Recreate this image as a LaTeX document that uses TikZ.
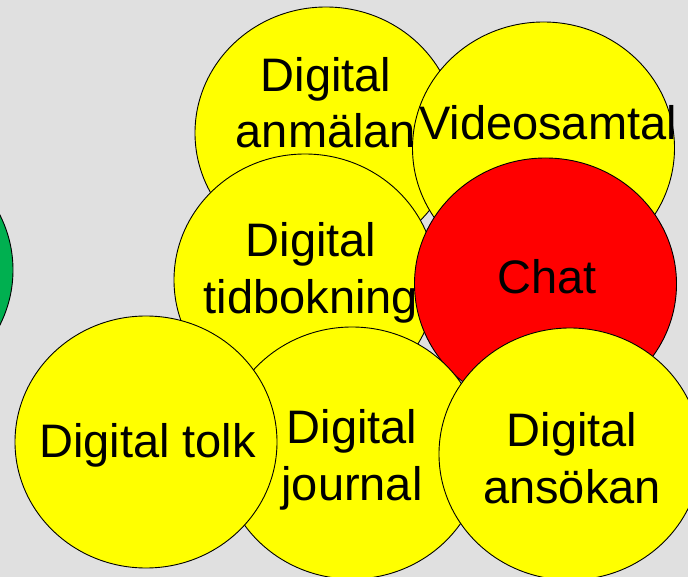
\documentclass[tikz,border=0pt]{standalone}
\usepackage{fontspec}
\setmainfont{Liberation Sans}
\usetikzlibrary{shapes.geometric}
\definecolor{bg}{RGB}{224,224,224}
\definecolor{ballyellow}{RGB}{255,255,0}
\definecolor{ballred}{RGB}{255,0,0}
\definecolor{ballgreen}{RGB}{0,176,80}
\tikzset{
  ball/.style={ellipse, draw=black, line width=0.9pt, inner sep=0pt,
    minimum width=262pt, minimum height=252pt, fill=ballyellow},
  % anchor=base sits on the baseline of the last line
  balltext/.style={inner sep=0pt, anchor=base, align=center, text=black,
    font=\fontsize{47}{56.5}\selectfont}
}
\begin{document}
\begin{tikzpicture}[x=1pt,y=-1pt]
  \fill[bg] (0,0) rectangle (688,577);
  \useasboundingbox (0,0) rectangle (688,577);

  % services, back to front
  \node[ball, fill=ballgreen] (gron) at (-118,270) {};

  \node[ball] (anm) at (326,133) {};
  \node[balltext] (anmT) at (326,148) {Digital\\anmälan};

  \node[ball] (video) at (543.5,148) {};
  \node[balltext] (videoT) at (548,140) {Videosamtal};

  \node[ball] (tid) at (305,280) {};
  \node[balltext] (tidT) at (311,313) {Digital\\tidbokning};

  \node[ball, fill=ballred] (chat) at (545.5,284) {};
  \node[balltext] (chatT) at (547,294) {Chat};

  \node[ball] (journal) at (352,453) {};
  \node[balltext] (journalT) at (352,500) {Digital\\journal};

  \node[ball] (tolk) at (146,442) {};
  \node[balltext] (tolkT) at (147.5,457) {Digital tolk};

  \node[ball] (ans) at (570,454) {};
  \node[balltext] (ansT) at (572,503) {Digital\\ansökan};
\end{tikzpicture}
\end{document}
